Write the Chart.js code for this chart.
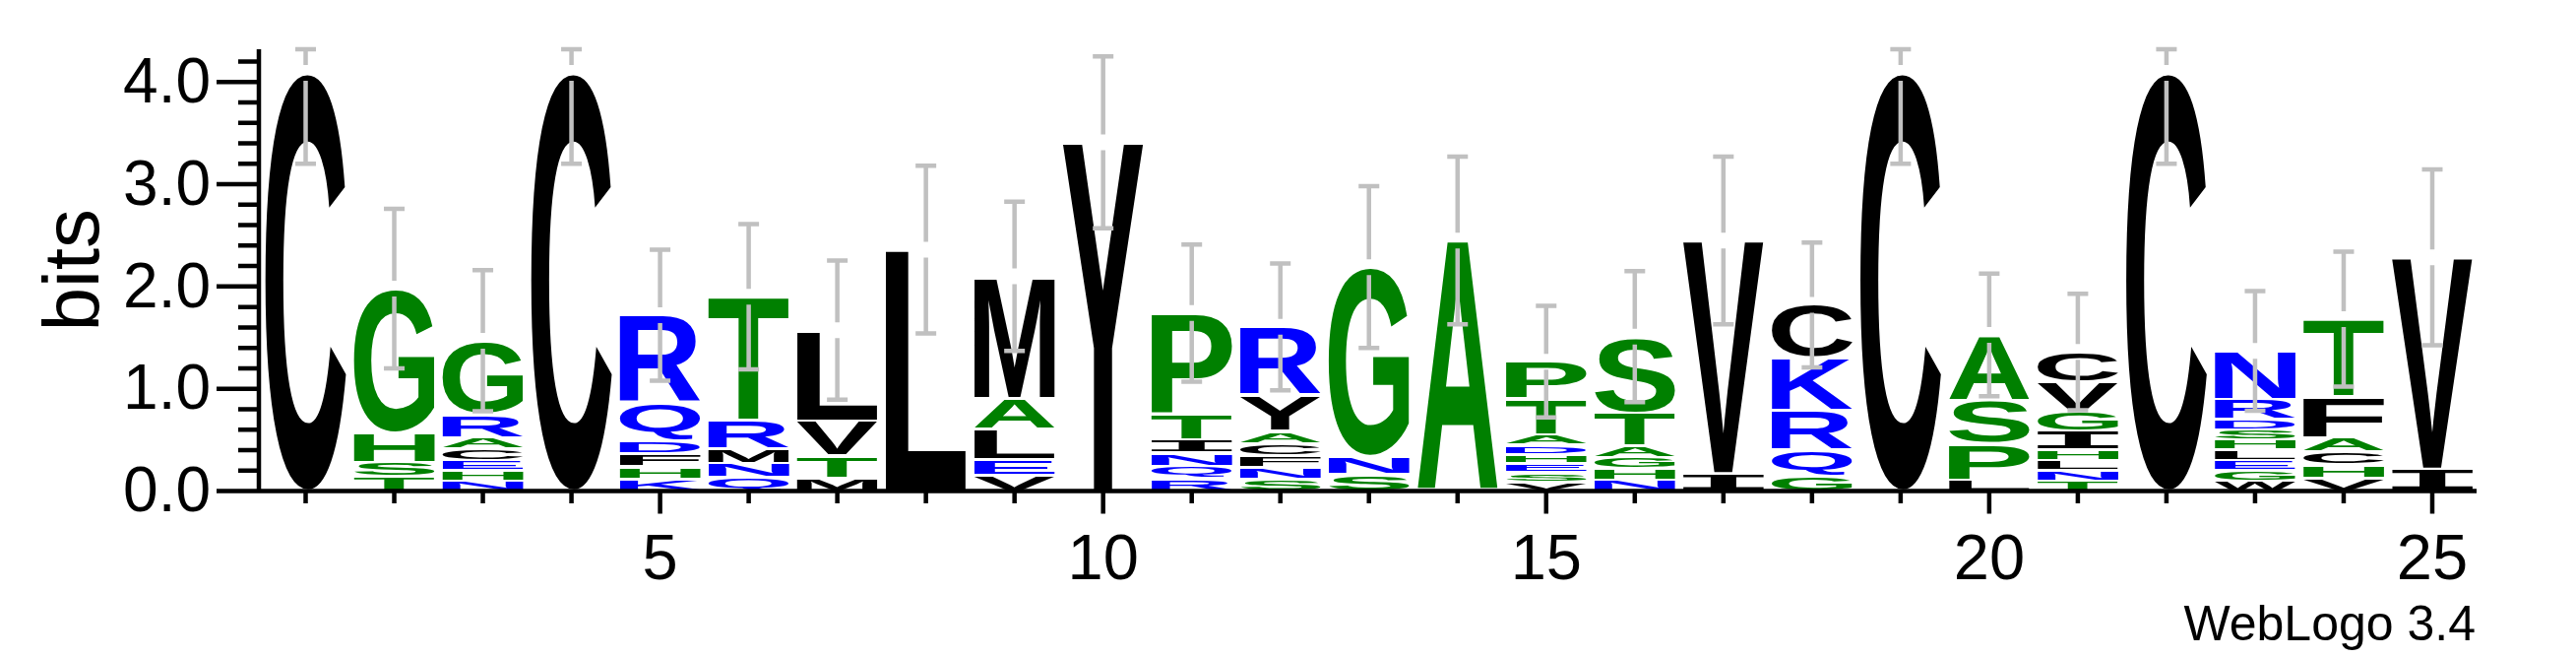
<!DOCTYPE html>
<html>
<head>
<meta charset="utf-8">
<script src="https://cdn.jsdelivr.net/npm/chart.js@4.4.1/dist/chart.umd.min.js"></script>
<style>
  html, body { margin: 0; padding: 0; background: #fff; }
  #wrap { width: 2617px; height: 667px; position: relative; }
</style>
</head>
<body>
<div id="wrap"><canvas id="logo"></canvas></div>
<script>
// sequence logo data, each stack listed top -> bottom
const positions = [1,2,3,4,5,6,7,8,9,10,11,12,13,14,15,16,17,18,19,20,21,22,23,24,25];
const stackLetters = ["C","GHST","GRACEHN","C","RQDFHK","TRMNQ","LVTM","L","MALEV","Y",
  "PTINQR","RYACFNS","GNS","A","PTADHESV","STAGHN","VI","CKRQG","C","ASPL",
  "CVGIHLNT","C","NRDSHLEGW","TFACHV","VI"];
const stackHeights = [
  [4.09],
  [1.41,0.29,0.14,0.14],
  [0.72,0.23,0.11,0.11,0.10,0.10,0.10],
  [4.09],
  [0.855,0.37,0.13,0.125,0.12,0.12],
  [1.21,0.28,0.14,0.135,0.135],
  [0.886,0.344,0.218,0.125],
  [2.36],
  [1.19,0.305,0.30,0.15,0.155],
  [3.41],
  [0.985,0.25,0.13,0.13,0.125,0.12],
  [0.67,0.35,0.12,0.12,0.115,0.115,0.115],
  [1.85,0.18,0.16],
  [2.45],
  [0.36,0.355,0.10,0.09,0.09,0.09,0.09,0.09],
  [0.745,0.325,0.11,0.11,0.11,0.11],
  [2.28,0.17],
  [0.52,0.51,0.39,0.26,0.14],
  [4.09],
  [0.642,0.418,0.356,0.11],
  [0.29,0.29,0.19,0.19,0.10,0.10,0.10,0.10],
  [4.09],
  [0.47,0.20,0.10,0.10,0.10,0.10,0.10,0.10,0.10],
  [0.76,0.40,0.135,0.13,0.13,0.125],
  [2.07,0.215]
];
const errorBars = [0.89,0.78,0.69,0.89,0.64,0.71,0.68,0.82,0.73,0.84,0.67,0.62,0.79,
  0.82,0.545,0.64,0.82,0.61,0.89,0.60,0.57,0.89,0.585,0.66,0.86];
const yTickLabels = ["0.0","1.0","2.0","3.0","4.0"];
const xTickLabels = [5,10,15,20,25];
const yMax = 4.32; // log2(20)

// hydrophobicity colour scheme
const blueRes = "RKDENQ", greenRes = "SGHTAP";
function colorOf(ch){
  if (blueRes.includes(ch)) return "#0000ff";
  if (greenRes.includes(ch)) return "#008000";
  return "#000000";
}

const stackTotals = stackHeights.map(h => h.reduce((s,v)=>s+v,0));

function drawGlyph(ctx, ch, x0, x1, yTop, yBot, color){
  const h = yBot - yTop;
  if (h < 1) return;
  // the logo's I has serifs, so take it from a mono face
  ctx.font = ch === "I" ? 'bold 200px "Liberation Mono", "DejaVu Sans Mono", monospace'
                        : 'bold 200px "Liberation Sans", Arial, sans-serif';
  const m = ctx.measureText(ch);
  const inkW = m.actualBoundingBoxLeft + m.actualBoundingBoxRight;
  const inkH = m.actualBoundingBoxAscent + m.actualBoundingBoxDescent;
  ctx.save();
  ctx.translate(x0, yTop);
  ctx.scale((x1 - x0) / inkW, h / inkH);
  ctx.fillStyle = color;
  ctx.textAlign = "left";
  ctx.textBaseline = "alphabetic";
  ctx.fillText(ch, m.actualBoundingBoxLeft, m.actualBoundingBoxAscent);
  ctx.restore();
}

const logoPlugin = {
  id: "logo",
  afterDatasetsDraw(chart){
    const { ctx, scales: { x, y }, chartArea: area } = chart;
    ctx.save();

    // letter stacks
    positions.forEach((p, i) => {
      const half = (x.getPixelForValue(p + 0.5) - x.getPixelForValue(p - 0.5)) * 0.455;
      const cx = x.getPixelForValue(p);
      let top = stackTotals[i];
      stackHeights[i].forEach((h, j) => {
        const ch = stackLetters[i][j];
        const yT = y.getPixelForValue(top) + 1.5;
        const yB = y.getPixelForValue(top - h) - 1.5;
        drawGlyph(ctx, ch, cx - half, cx + half, yT, yB, colorOf(ch));
        top -= h;
      });
    });

    // error bars
    ctx.strokeStyle = "#c0c0c0";
    ctx.lineWidth = 4.5;
    ctx.lineCap = "butt";
    positions.forEach((p, i) => {
      const cx = x.getPixelForValue(p);
      const c = y.getPixelForValue(stackTotals[i]);
      const t = y.getPixelForValue(Math.min(stackTotals[i] + errorBars[i], yMax));
      const b = y.getPixelForValue(Math.max(stackTotals[i] - errorBars[i], 0));
      ctx.beginPath();
      if (c - 8 > t) { ctx.moveTo(cx, t); ctx.lineTo(cx, c - 8); }
      ctx.moveTo(cx, c + 8); ctx.lineTo(cx, b);
      ctx.moveTo(cx - 10.5, t); ctx.lineTo(cx + 10.5, t);
      ctx.moveTo(cx - 10.5, b); ctx.lineTo(cx + 10.5, b);
      ctx.stroke();
    });

    // axes
    ctx.strokeStyle = "#000";
    ctx.fillStyle = "#000";
    ctx.lineWidth = 4.5;
    const ax = area.left - 2.5;
    const y0 = y.getPixelForValue(0);
    ctx.beginPath();
    ctx.moveTo(ax, y.getPixelForValue(yMax)); ctx.lineTo(ax, y0 + 2.2);
    ctx.moveTo(ax, y0); ctx.lineTo(x.getPixelForValue(25.5), y0);
    for (let k = 0; k <= 21; k++){
      const v = k * 0.2;
      const py = y.getPixelForValue(v);
      ctx.moveTo(ax - (k % 5 === 0 ? 43 : 21), py);
      ctx.lineTo(ax, py);
    }
    positions.forEach(p => {
      const px = x.getPixelForValue(p);
      ctx.moveTo(px, y0);
      ctx.lineTo(px, y0 + (p % 5 === 0 ? 23 : 12.5));
    });
    ctx.stroke();

    ctx.font = '64px "Liberation Sans", Arial, sans-serif';
    ctx.textAlign = "right";
    ctx.textBaseline = "middle";
    yTickLabels.forEach((lab, k) => {
      ctx.fillText(lab, 214, y.getPixelForValue(k) + 3);
    });
    ctx.textAlign = "center";
    ctx.textBaseline = "alphabetic";
    ctx.font = '65px "Liberation Sans", Arial, sans-serif';
    xTickLabels.forEach(v => {
      ctx.fillText(String(v), x.getPixelForValue(v), 588);
    });

    ctx.save();
    ctx.font = '80px "Liberation Sans", Arial, sans-serif';
    ctx.translate(100, (area.top + area.bottom) / 2);
    ctx.rotate(-Math.PI / 2);
    ctx.textAlign = "center";
    ctx.fillText("bits", 0, 0);
    ctx.restore();

    ctx.font = '50px "Liberation Sans", Arial, sans-serif';
    ctx.textAlign = "right";
    ctx.fillText("WebLogo 3.4", 2515, 650);
    ctx.restore();
  }
};

new Chart(document.getElementById("logo"), {
  type: "scatter",
  data: {
    datasets: [{
      data: positions.map((p, i) => ({ x: p, y: stackTotals[i] })),
      pointRadius: 0,
      showLine: false
    }]
  },
  options: {
    responsive: true,
    maintainAspectRatio: false,
    animation: false,
    devicePixelRatio: 1,
    layout: { padding: { left: 265.5, right: 101, top: 50, bottom: 168.5 } },
    scales: {
      x: { type: "linear", min: 0.5, max: 25.5, display: false },
      y: { type: "linear", min: 0, max: yMax, display: false }
    },
    plugins: { legend: { display: false }, tooltip: { enabled: false } }
  },
  plugins: [logoPlugin]
});
</script>
</body>
</html>
